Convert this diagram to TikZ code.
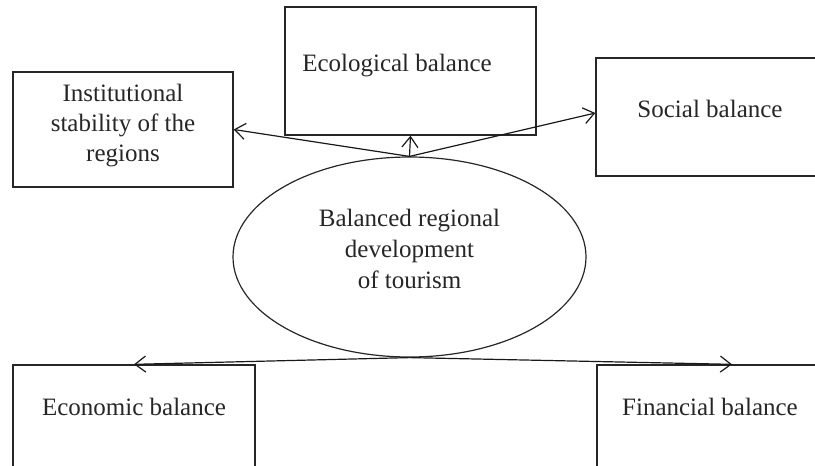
\documentclass[tikz,border=0pt]{standalone}
\usepackage{fontspec}
\setmainfont{Liberation Serif}
\usetikzlibrary{arrows.meta,shapes.geometric}
\begin{document}
\begin{tikzpicture}[x=0.75pt,y=-0.75pt,
  box/.style={draw=black!85,line width=1pt,rectangle,inner sep=0pt},
  lbl/.style={font=\fontsize{18.75pt}{23pt}\selectfont,inner sep=0pt,text=black!85,align=center},
  arr/.style={draw=black!90,line width=0.9pt,-{Straight Barb[length=8pt,width=12pt]}}]
\useasboundingbox (0,0) rectangle (815,465);
\clip (0,0) rectangle (815,465);
% boxes
\node[box,minimum width=165pt,minimum height=86.25pt] (inst) at (123,129.5) {};
\node[box,minimum width=188.25pt,minimum height=96pt] (eco) at (410.5,71) {};
\node[box,minimum width=175.5pt,minimum height=88.5pt] (soc) at (713,117) {};
\node[box,minimum width=181.5pt,minimum height=86.25pt] (econ) at (134,422.5) {};
\node[box,minimum width=202.5pt,minimum height=86.25pt] (fin) at (732,422.5) {};
\node[draw=black!85,line width=0.9pt,ellipse,inner sep=0pt,minimum width=264.75pt,minimum height=150pt] (c) at (409.5,257) {};
% texts
\node[lbl,font=\fontsize{18.75pt}{22.5pt}\selectfont] (instT) at (123,126) {Institutional\\stability of the\\regions};
\node[lbl,anchor=base] (ecoT) at (397,71) {Ecological balance};
\node[lbl,anchor=base] (socT) at (710,117) {Social balance};
\node[lbl,anchor=base] (econT) at (134,415) {Economic balance};
\node[lbl,anchor=base] (finT) at (710,415) {Financial balance};
\node[lbl,font=\fontsize{18.75pt}{23.25pt}\selectfont] (cT) at (409.5,248.5) {Balanced regional\\development\\of tourism};
% connectors
\draw[arr] (c.north) -- (inst.east);
\draw[arr] (c.north) -- (eco.south);
\draw[arr] (c.north) -- ([yshift=3pt]soc.west);
\draw[arr] (c.south) -- (econ.north);
\draw[arr] (c.south) -- (fin.north);
\end{tikzpicture}
\end{document}
